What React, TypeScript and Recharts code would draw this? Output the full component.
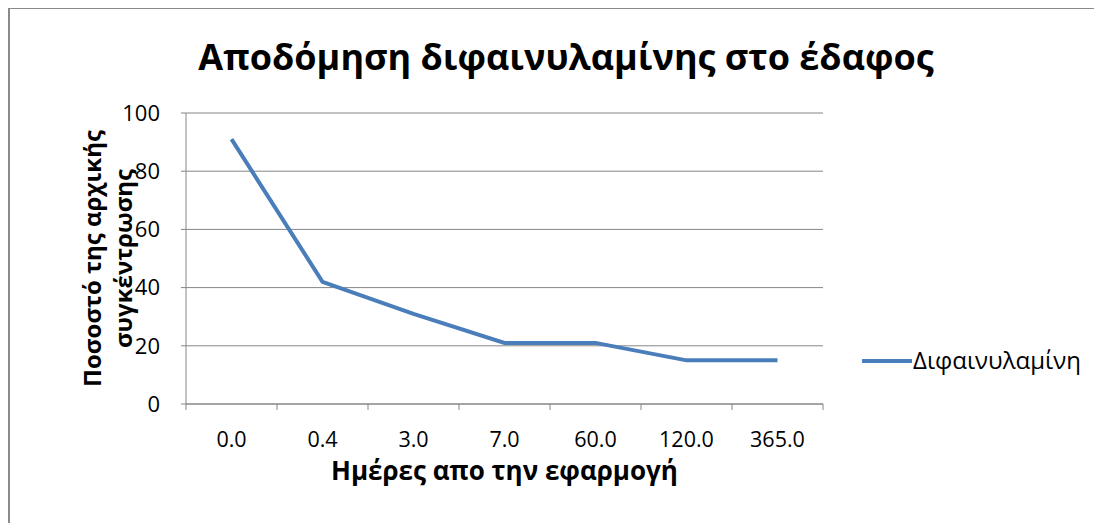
import React from "react";
import { LineChart, Line, XAxis, YAxis, CartesianGrid, Label } from "recharts";

const days = ["0.0", "0.4", "3.0", "7.0", "60.0", "120.0", "365.0"];
const diphenylamine = [91, 42, 31, 21, 21, 15, 15];
const yTicks = [0, 20, 40, 60, 80, 100];

const data = days.map((d, i) => ({ day: d, value: diphenylamine[i] }));

const FONT = "'Open Sans', 'Liberation Sans', sans-serif";
const AXIS = "#868686";
const SERIES = "#4A7EBB";

const CHART_W = 1094;
const CHART_H = 516;
const Y_AXIS_W = 178;
const X_AXIS_H = 119;
const MARGIN = { top: 106, right: 279, bottom: 0, left: 0 };
const BAND = (CHART_W - Y_AXIS_W - MARGIN.right) / days.length;

const XTick = (props: any) => {
  const { x, y, payload, index } = props;
  const half = BAND / 2;
  return (
    <g>
      <line x1={x - half} x2={x - half} y1={y - 8} y2={y - 2} stroke={AXIS} />
      {index === days.length - 1 && (
        <line x1={x + half} x2={x + half} y1={y - 8} y2={y - 2} stroke={AXIS} />
      )}
      <text x={x} y={y + 35} textAnchor="middle" fill="#000" fontSize={21.5} fontFamily={FONT}>
        {payload.value}
      </text>
    </g>
  );
};

const YTitle = (props: any) => {
  const cy = props.viewBox ? props.viewBox.y + props.viewBox.height / 2 : 252;
  const cx = 93;
  return (
    <text
      transform={`translate(${cx}, ${cy}) rotate(-90)`}
      textAnchor="middle"
      fontFamily={FONT}
      fontWeight="bold"
      fontSize={24}
      fill="#000"
    >
      <tspan x={0} dy={0}>Ποσοστό της αρχικής</tspan>
      <tspan x={0} dy={31}>συγκέντρωσης</tspan>
    </text>
  );
};

const LegendBox = () => (
  <g>
    <line x1={854} x2={904} y1={354} y2={354} stroke={SERIES} strokeWidth={4} />
    <text x={905} y={362} fontSize={24} fontFamily={FONT} fill="#000">
      Διφαινυλαμίνη
    </text>
  </g>
);

export default function App() {
  return (
    <div
      style={{
        position: "relative",
        width: CHART_W,
        height: CHART_H,
        marginTop: -1,
        borderLeft: "2px solid #8a8a8a",
        borderTop: "2px solid #8a8a8a",
        boxSizing: "border-box",
        background: "#fff",
      }}
    >
      <div style={{ position: "absolute", left: -2, top: -2 }}>
        <LineChart width={CHART_W} height={CHART_H} data={data} margin={MARGIN}>
          <text
            x={558}
            y={63}
            textAnchor="middle"
            fontFamily={FONT}
            fontWeight="bold"
            fontSize={36}
            fill="#000"
          >
            Αποδόμηση διφαινυλαμίνης στο έδαφος
          </text>
          <CartesianGrid vertical={false} stroke={AXIS} strokeDasharray="" />
          <XAxis
            dataKey="day"
            padding={{ left: BAND / 2, right: BAND / 2 }}
            stroke={AXIS}
            tickLine={false}
            tick={<XTick />}
            interval={0}
            height={X_AXIS_H}
          >
            <Label
              value="Ημέρες απο την εφαρμογή"
              position="insideTop"
              offset={58}
              fontFamily={FONT}
              fontWeight="bold"
              fontSize={26}
              fill="#000"
            />
          </XAxis>
          <YAxis
            domain={[0, 100]}
            ticks={yTicks}
            stroke={AXIS}
            tickSize={5}
            tick={{ fill: "#000", fontSize: 22, fontFamily: FONT }}
            tickMargin={21}
            width={Y_AXIS_W}
          >
            <Label content={<YTitle />} />
          </YAxis>
          <Line
            dataKey="value"
            stroke={SERIES}
            strokeWidth={4}
            dot={false}
            activeDot={false}
            isAnimationActive={false}
          />
          <LegendBox />
        </LineChart>
      </div>
    </div>
  );
}
